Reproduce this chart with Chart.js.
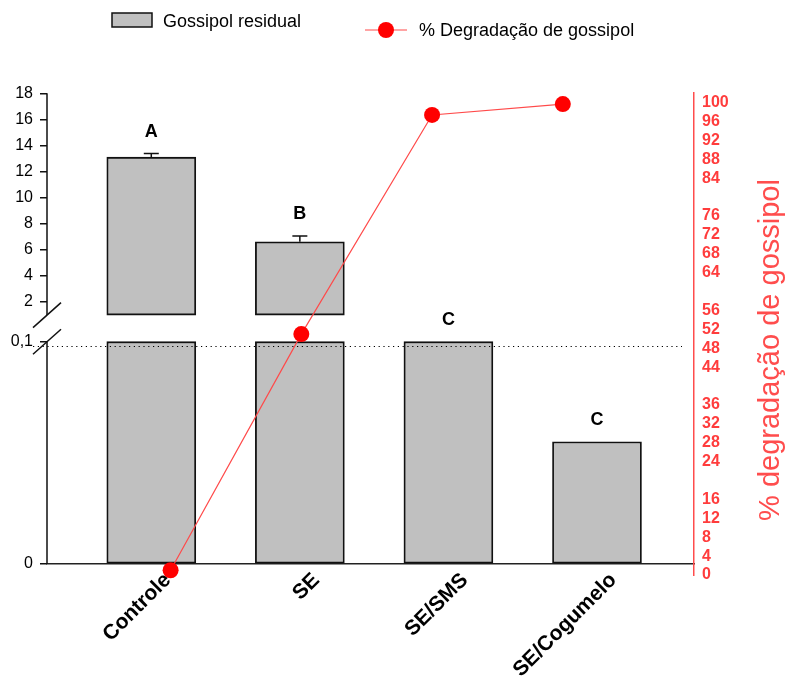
<!DOCTYPE html>
<html>
<head>
<meta charset="utf-8">
<script src="https://cdn.jsdelivr.net/npm/chart.js@4.4.0/dist/chart.umd.min.js"></script>
<style>
  html, body { margin: 0; padding: 0; background: #fff; overflow: hidden; }
  #wrap { width: 788px; height: 691px; }
</style>
</head>
<body>
<div id="wrap"><canvas id="chart"></canvas></div>
<script>
const categories = ["Controle", "SE", "SE/SMS", "SE/Cogumelo"];
const residual = [13.1, 6.62, 0.1, 0.055];
const residualErr = [0.28, 0.44, 0, 0];
const letters = ["A", "B", "C", "C"];
// the degradation points sit on their own x positions (in category units)
const degradX = [0.13, 1.01, 1.89, 2.77];
const degradation = [1, 51, 97.4, 99.7];
const lowTicks = [0, 0.1];
const highTicks = [2, 4, 6, 8, 10, 12, 14, 16, 18];
const rightTicks = [0, 4, 8, 12, 16, 24, 28, 32, 36, 44, 48, 52, 56, 64, 68, 72, 76, 84, 88, 92, 96, 100];

const LOW_TOP = 0.1;    // top of the lower axis segment
const HIGH_BASE = 1;    // bottom of the upper axis segment
const DOT_LEVEL = 0.098;
const LABEL_SHIFT = 0.11; // category labels sit a little right of the bars

const FONT = "Arial, 'Liberation Sans', sans-serif";
Chart.defaults.font.family = FONT;

const decorations = {
  id: "decorations",
  afterLayout(chart) {
    // yLow has no width of its own; widen its label clip area to the left edge
    const s = chart.scales.yLow;
    s.left = 0;
  },
  beforeDatasetsDraw(chart) {
    const { ctx, chartArea, scales: { yLow, yHigh } } = chart;
    const ax = chartArea.left;
    ctx.save();
    ctx.strokeStyle = "#111";
    ctx.lineWidth = 1.5;
    ctx.beginPath();
    ctx.moveTo(ax, yHigh.getPixelForValue(highTicks[highTicks.length - 1]));
    ctx.lineTo(ax, yHigh.getPixelForValue(HIGH_BASE));
    ctx.moveTo(ax, yLow.getPixelForValue(LOW_TOP));
    ctx.lineTo(ax, yLow.getPixelForValue(0));
    ctx.stroke();
    // break marks
    [yHigh.getPixelForValue(HIGH_BASE), yLow.getPixelForValue(LOW_TOP)].forEach((py) => {
      ctx.beginPath();
      ctx.moveTo(ax - 14, py + 12.5);
      ctx.lineTo(ax + 14, py - 12.5);
      ctx.stroke();
    });
    ctx.restore();
  },
  afterDatasetsDraw(chart) {
    const { ctx, chartArea, scales: { x, yLow, yHigh } } = chart;
    ctx.save();
    // dotted line just under the break
    const dy = Math.round(yLow.getPixelForValue(DOT_LEVEL)) + 0.5;
    ctx.setLineDash([1.2, 3.6]);
    ctx.lineWidth = 1.2;
    ctx.strokeStyle = "#000";
    ctx.beginPath();
    ctx.moveTo(chartArea.left - 14, dy);
    ctx.lineTo(chartArea.right - 12, dy);
    ctx.stroke();
    ctx.setLineDash([]);

    residual.forEach((v, i) => {
      const onHigh = v > HIGH_BASE;
      const sc = onHigh ? yHigh : yLow;
      const px = x.getPixelForValue(i);
      const top = sc.getPixelForValue(onHigh ? v : Math.min(v, LOW_TOP));
      let markTop = top;
      if (residualErr[i] > 0) {
        const ey = sc.getPixelForValue(v + residualErr[i]);
        ctx.strokeStyle = "#111";
        ctx.lineWidth = 1.5;
        ctx.beginPath();
        ctx.moveTo(px, top);
        ctx.lineTo(px, ey);
        ctx.moveTo(px - 7.5, ey);
        ctx.lineTo(px + 7.5, ey);
        ctx.stroke();
        markTop = ey;
      }
      ctx.fillStyle = "#000";
      ctx.font = "bold 18px " + FONT;
      ctx.textAlign = "center";
      ctx.textBaseline = "alphabetic";
      ctx.fillText(letters[i], px, markTop - 17);
    });
    ctx.restore();
  },
  afterDraw(chart) {
    const { ctx } = chart;
    const sets = chart.data.datasets;
    ctx.save();
    // legend
    ctx.fillStyle = "#c0c0c0";
    ctx.fillRect(112, 13, 40, 14);
    ctx.strokeStyle = "#111";
    ctx.lineWidth = 1.5;
    ctx.strokeRect(112, 13, 40, 14);
    ctx.fillStyle = "#000";
    ctx.font = "18px " + FONT;
    ctx.textAlign = "left";
    ctx.textBaseline = "alphabetic";
    ctx.fillText(sets[0].label, 163, 27);

    ctx.strokeStyle = sets[2].borderColor;
    ctx.lineWidth = 1.2;
    ctx.beginPath();
    ctx.moveTo(365, 30);
    ctx.lineTo(407, 30);
    ctx.stroke();
    ctx.fillStyle = sets[2].pointBackgroundColor;
    ctx.beginPath();
    ctx.arc(386, 30, 8, 0, Math.PI * 2);
    ctx.fill();
    ctx.fillStyle = "#000";
    ctx.fillText(sets[2].label, 419, 36);

    // right axis title, reading bottom to top
    ctx.translate(779, 350);
    ctx.rotate(-Math.PI / 2);
    ctx.fillStyle = "#ff4d4d";
    ctx.font = "29px " + FONT;
    ctx.textAlign = "center";
    ctx.fillText("% degradação de gossipol", 0, 0);
    ctx.restore();
  },
};

new Chart(document.getElementById("chart"), {
  type: "bar",
  data: {
    datasets: [
      {
        label: "Gossipol residual",
        data: residual.map((v, i) => ({ x: i, y: [0, Math.min(v, LOW_TOP)] })),
        xAxisID: "x",
        yAxisID: "yLow",
        grouped: false,
        barThickness: 89,
        backgroundColor: "#c0c0c0",
        borderColor: "#111",
        borderWidth: 1.8,
        borderSkipped: false,
        order: 2,
      },
      {
        label: "Gossipol residual (upper)",
        data: residual.map((v, i) => ({ x: i, y: v > HIGH_BASE ? [HIGH_BASE, v] : null })),
        xAxisID: "x",
        yAxisID: "yHigh",
        grouped: false,
        barThickness: 89,
        backgroundColor: "#c0c0c0",
        borderColor: "#111",
        borderWidth: 1.8,
        borderSkipped: false,
        order: 1,
      },
      {
        type: "line",
        label: "% Degradação de gossipol",
        data: degradX.map((x, i) => ({ x: x, y: degradation[i] })),
        xAxisID: "x",
        yAxisID: "y2",
        borderColor: "#ff4a4a",
        borderWidth: 1.2,
        pointRadius: 8,
        pointBackgroundColor: "#ff0000",
        pointBorderColor: "#ff0000",
        pointBorderWidth: 0,
        clip: false,
        order: 0,
      },
    ],
  },
  options: {
    responsive: true,
    maintainAspectRatio: false,
    animation: false,
    layout: { padding: { top: 93, bottom: 116, left: 0, right: 0 } },
    plugins: { legend: { display: false }, tooltip: { enabled: false } },
    scales: {
      x: {
        type: "linear",
        offset: false,
        min: -0.702,
        max: 3.653,
        position: { yLow: 0 },
        grid: { display: false, drawTicks: false, offset: false },
        border: { color: "#222", width: 1.5 },
        afterBuildTicks: (s) => {
          s.ticks = categories.map((c, i) => ({ value: i + LABEL_SHIFT }));
        },
        ticks: {
          autoSkip: false,
          maxRotation: 45,
          minRotation: 45,
          padding: 4,
          color: "#000",
          font: { size: 21, weight: "bold" },
          callback: (v) => categories[Math.round(v)],
        },
      },
      yHigh: {
        type: "linear",
        position: "left",
        weight: 1,
        min: -18.92,
        max: 18.02,
        afterBuildTicks: (s) => {
          s.ticks = highTicks.map((v) => ({ value: v }));
        },
        afterFit: (s) => {
          s.width = 47;
        },
        grid: { drawOnChartArea: false, color: "#111", lineWidth: 1.5, tickLength: 7 },
        border: { display: false },
        ticks: { color: "#000", padding: 7, font: { size: 16 } },
      },
      yLow: {
        type: "linear",
        position: "left",
        weight: 0,
        min: -0.00495,
        max: 0.21188,
        afterBuildTicks: (s) => {
          s.ticks = lowTicks.map((v) => ({ value: v }));
        },
        afterFit: (s) => {
          s.width = 0;
        },
        grid: { drawOnChartArea: false, color: "#111", lineWidth: 1.5, tickLength: 7 },
        border: { display: false },
        ticks: {
          color: "#000",
          padding: 7,
          font: { size: 16 },
          callback: (v) => String(v).replace(".", ","),
        },
      },
      y2: {
        type: "linear",
        position: "right",
        min: 0,
        max: 102.05,
        afterBuildTicks: (s) => {
          s.ticks = rightTicks.map((v) => ({ value: v }));
        },
        afterFit: (s) => {
          s.width = 94;
        },
        grid: { display: false, drawTicks: false },
        border: { color: "#ff4d4d", width: 1.5 },
        ticks: { color: "#ff3c3c", padding: 8, font: { size: 16, weight: "bold" } },
      },
    },
  },
  plugins: [decorations],
});
</script>
</body>
</html>
